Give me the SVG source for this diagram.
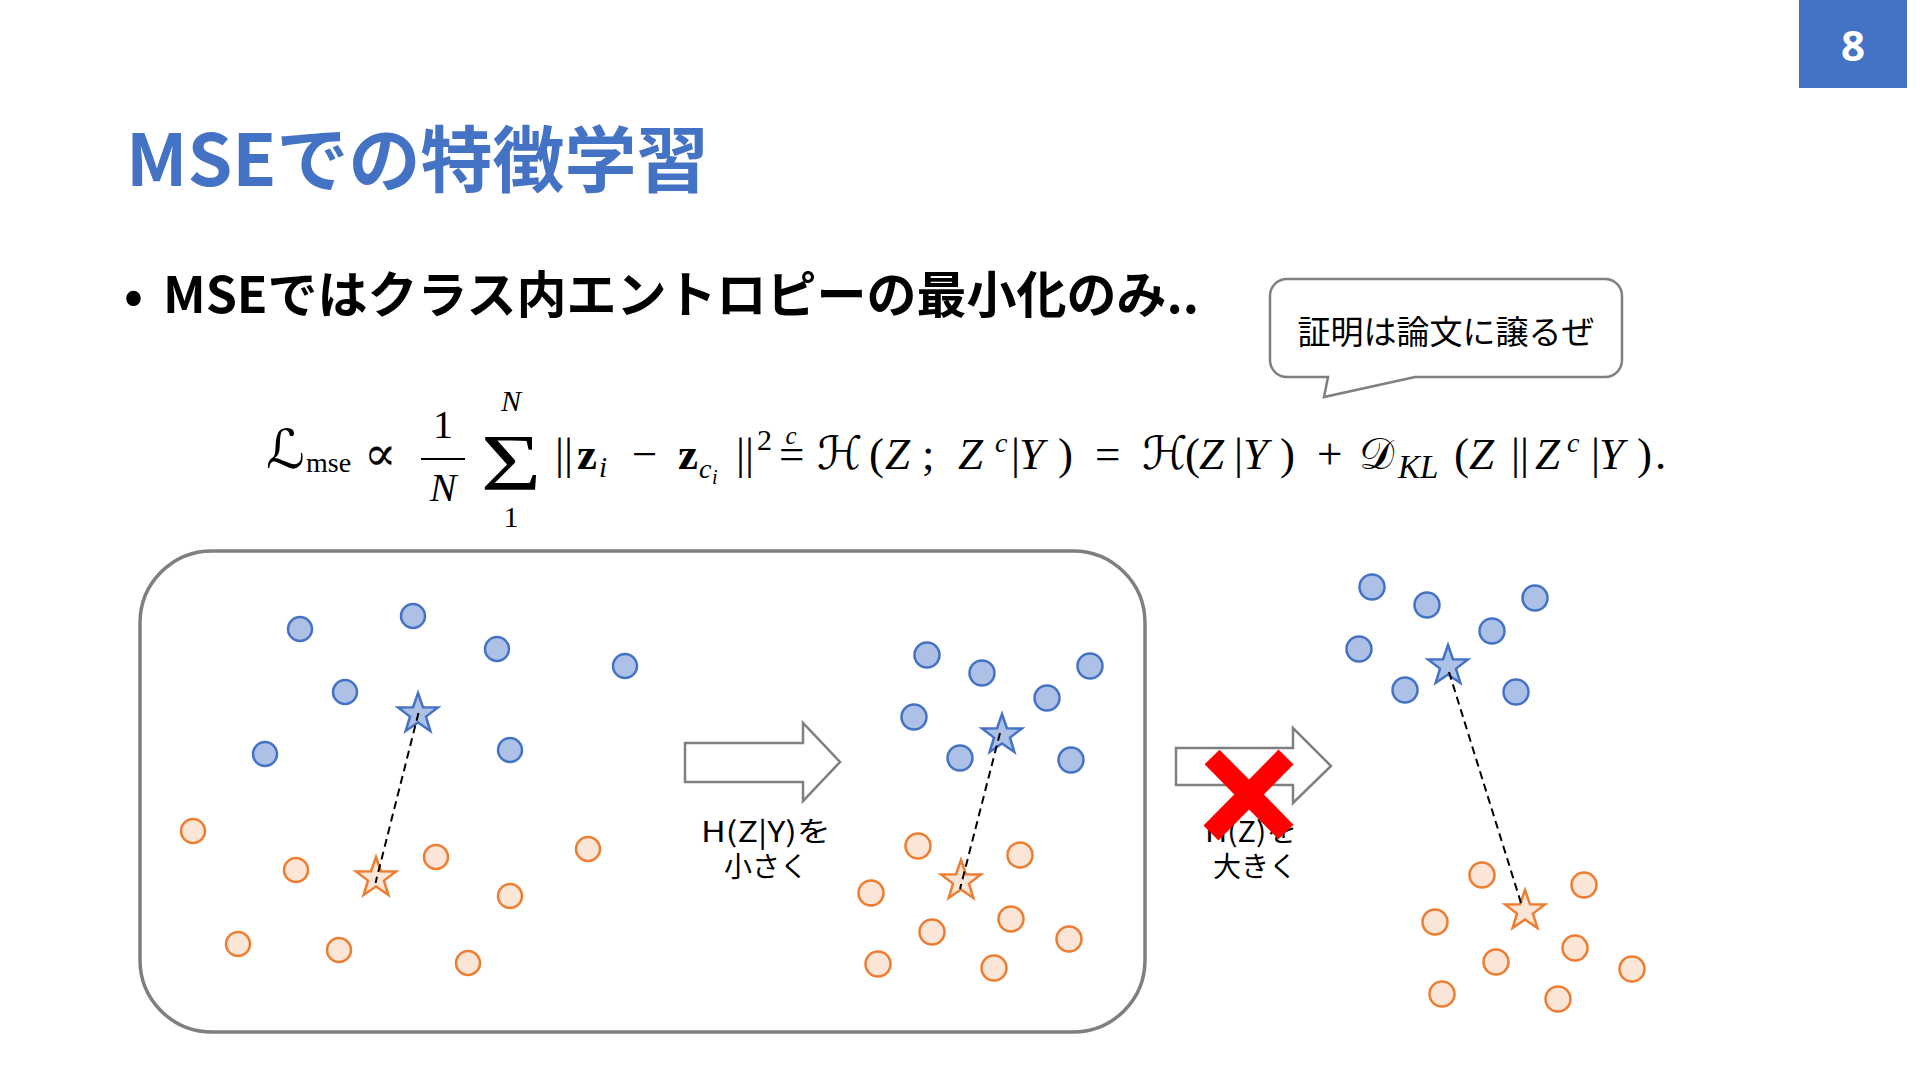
<svg xmlns="http://www.w3.org/2000/svg" width="1920" height="1080" viewBox="0 0 1920 1080">
<style>
.bc{fill:#adc1e7;stroke:#4472c4;stroke-width:2.5}
.oc{fill:#fbe5d6;stroke:#ed7d31;stroke-width:2.5}
.dash{stroke:#000;stroke-width:2;stroke-dasharray:8 5;fill:none}
.arrow{fill:#fff;stroke:#7f7f7f;stroke-width:2.5}
.lbl{font-family:"Noto Sans CJK JP","Noto Sans",sans-serif;font-size:28px;text-anchor:middle;fill:#000}
.m{font-family:"Liberation Serif","DejaVu Serif",serif;font-size:45px;fill:#000}
.i{font-style:italic}
.b{font-weight:bold}
.sc{font-family:"DejaVu Serif","DejaVu Sans",serif;font-size:46px;fill:#000}
</style>
<defs>
<path id="star" d="M0,-21 L4.94,-6.8 L19.97,-6.49 L7.99,2.6 L12.34,16.99 L0,8.4 L-12.34,16.99 L-7.99,2.6 L-19.97,-6.49 L-4.94,-6.8 Z"/>
</defs>
<rect width="1920" height="1080" fill="#fff"/>

<g id="page-number">
<rect x="1799" y="0" width="108" height="88" fill="#4472c4"/>
<text x="1853" y="61" font-family="'Noto Sans','Liberation Sans',sans-serif" font-weight="bold" font-size="42" fill="#fff" text-anchor="middle">8</text>
</g>

<g id="title">
<text x="126" y="186" font-family="'Noto Sans CJK JP',sans-serif" font-weight="bold" font-size="72" fill="#4472c4">MSEでの特徴学習</text>
</g>

<g id="bullet">
<text x="124" y="313" font-family="'Noto Sans CJK JP',sans-serif" font-weight="bold" font-size="50" fill="#000">•</text>
<text x="163" y="313" font-family="'Noto Sans CJK JP',sans-serif" font-weight="bold" font-size="50" fill="#000">MSEではクラス内エントロピーの最小化のみ..</text>
</g>

<g id="callout">
<path d="M1287,279 H1605 A17,17 0 0 1 1622,296 V360 A17,17 0 0 1 1605,377 H1415 L1324,397 L1328,377 H1287 A17,17 0 0 1 1270,360 V296 A17,17 0 0 1 1287,279 Z" fill="#fff" stroke="#7f7f7f" stroke-width="2.5"/>
<text x="1446" y="344" font-family="'Noto Sans CJK JP',sans-serif" font-size="33" fill="#000" text-anchor="middle">証明は論文に譲るぜ</text>
</g>

<g id="formula">
<text class="sc" x="266" y="468" style="font-size:54px">ℒ</text>
<text class="m" x="306" y="472" style="font-size:28px">mse</text>
<text x="364" y="470" font-family="'DejaVu Serif',serif" font-size="48">∝</text>
<text class="m" x="443" y="438" text-anchor="middle" style="font-size:40px">1</text>
<line x1="421" y1="459" x2="465" y2="459" stroke="#000" stroke-width="2"/>
<text class="m i" x="443" y="501" text-anchor="middle" style="font-size:40px">N</text>
<text class="m" x="0" y="0" text-anchor="middle" style="font-size:80px" transform="translate(511,490) scale(1.3,1)">Σ</text>
<text class="m i" x="511" y="411" text-anchor="middle" style="font-size:30px">N</text>
<text class="m" x="511" y="527" text-anchor="middle" style="font-size:30px">1</text>
<text class="m" x="555" y="469">||</text>
<text class="m b" x="577" y="469">z</text>
<text class="m i" x="599" y="477" style="font-size:29px">i</text>
<text class="m" x="632" y="469">−</text>
<text class="m b" x="678" y="469">z</text>
<text class="m i" x="699" y="478" style="font-size:28px">c</text>
<text class="m i" x="712" y="484" style="font-size:20px">i</text>
<text class="m" x="736" y="469">||</text>
<text class="m" x="757" y="450" style="font-size:30px">2</text>
<text class="m" x="779" y="469">=</text>
<text class="m i" x="791" y="444" text-anchor="middle" style="font-size:25px">c</text>
<text class="sc" x="817" y="469">ℋ</text>
<text class="m" x="869" y="469">(</text>
<text class="m i" x="885" y="469">Z</text>
<text class="m" x="922" y="469">;</text>
<text class="m i" x="958" y="469">Z</text>
<text class="m i" x="995" y="452" style="font-size:28px">c</text>
<text class="m" x="1011" y="469">|</text>
<text class="m i" x="1019" y="469">Y</text>
<text class="m" x="1058" y="469">)</text>
<text class="m" x="1095" y="469">=</text>
<text class="sc" x="1142" y="469">ℋ</text>
<text class="m" x="1185" y="469">(</text>
<text class="m i" x="1199" y="469">Z</text>
<text class="m" x="1234" y="469">|</text>
<text class="m i" x="1243" y="469">Y</text>
<text class="m" x="1280" y="469">)</text>
<text class="m" x="1317" y="469">+</text>
<text class="sc" x="1359" y="469" style="font-size:44px">𝒟</text>
<text class="m i" x="1398" y="478" style="font-size:33px">KL</text>
<text class="m" x="1454" y="469">(</text>
<text class="m i" x="1469" y="469">Z</text>
<text class="m" x="1511" y="469">||</text>
<text class="m i" x="1535" y="469">Z</text>
<text class="m i" x="1567" y="452" style="font-size:28px">c</text>
<text class="m" x="1591" y="469">|</text>
<text class="m i" x="1599" y="469">Y</text>
<text class="m" x="1637" y="469">)</text>
<text class="m" x="1655" y="469">.</text>
</g>

<g id="before-panel">
<rect x="140" y="551" width="1005" height="481" rx="72" ry="72" fill="none" stroke="#7f7f7f" stroke-width="3.5"/>
</g>

<g id="left-blue">
<circle class="bc" cx="300" cy="629" r="12"/>
<circle class="bc" cx="413" cy="616" r="12"/>
<circle class="bc" cx="497" cy="649" r="12"/>
<circle class="bc" cx="625" cy="666" r="12"/>
<circle class="bc" cx="345" cy="692" r="12"/>
<circle class="bc" cx="265" cy="754" r="12"/>
<circle class="bc" cx="510" cy="750" r="12"/>
<use href="#star" class="bc" x="418" y="714"/>
</g>
<g id="left-orange">
<circle class="oc" cx="193" cy="831" r="12"/>
<circle class="oc" cx="296" cy="870" r="12"/>
<circle class="oc" cx="436" cy="857" r="12"/>
<circle class="oc" cx="588" cy="849" r="12"/>
<circle class="oc" cx="510" cy="896" r="12"/>
<circle class="oc" cx="238" cy="944" r="12"/>
<circle class="oc" cx="339" cy="950" r="12"/>
<circle class="oc" cx="468" cy="963" r="12"/>
<use href="#star" class="oc" x="376" y="878"/>
</g>

<g id="middle-blue">
<circle class="bc" cx="927" cy="655" r="12.5"/>
<circle class="bc" cx="982" cy="673" r="12.5"/>
<circle class="bc" cx="1090" cy="666" r="12.5"/>
<circle class="bc" cx="1047" cy="698" r="12.5"/>
<circle class="bc" cx="914" cy="717" r="12.5"/>
<circle class="bc" cx="960" cy="758" r="12.5"/>
<circle class="bc" cx="1071" cy="760" r="12.5"/>
<use href="#star" class="bc" x="1002" y="735"/>
</g>
<g id="middle-orange">
<circle class="oc" cx="918" cy="846" r="12.5"/>
<circle class="oc" cx="1020" cy="855" r="12.5"/>
<circle class="oc" cx="871" cy="893" r="12.5"/>
<circle class="oc" cx="1011" cy="919" r="12.5"/>
<circle class="oc" cx="932" cy="932" r="12.5"/>
<circle class="oc" cx="1069" cy="939" r="12.5"/>
<circle class="oc" cx="878" cy="964" r="12.5"/>
<circle class="oc" cx="994" cy="968" r="12.5"/>
<use href="#star" class="oc" x="961" y="881"/>
</g>

<g id="right-blue">
<circle class="bc" cx="1372" cy="587" r="12.5"/>
<circle class="bc" cx="1427" cy="605" r="12.5"/>
<circle class="bc" cx="1535" cy="598" r="12.5"/>
<circle class="bc" cx="1492" cy="631" r="12.5"/>
<circle class="bc" cx="1359" cy="649" r="12.5"/>
<circle class="bc" cx="1405" cy="690" r="12.5"/>
<circle class="bc" cx="1516" cy="692" r="12.5"/>
<use href="#star" class="bc" x="1448" y="666"/>
</g>
<g id="right-orange">
<circle class="oc" cx="1482" cy="875" r="12.5"/>
<circle class="oc" cx="1584" cy="885" r="12.5"/>
<circle class="oc" cx="1435" cy="922" r="12.5"/>
<circle class="oc" cx="1575" cy="948" r="12.5"/>
<circle class="oc" cx="1496" cy="962" r="12.5"/>
<circle class="oc" cx="1632" cy="969" r="12.5"/>
<circle class="oc" cx="1442" cy="994" r="12.5"/>
<circle class="oc" cx="1558" cy="999" r="12.5"/>
<use href="#star" class="oc" x="1525" y="911"/>
</g>

<g id="arrow-reduce">
<path class="arrow" d="M685,743 H803 V723 L840,762 L803,801 V782 H685 Z"/>
<text class="lbl" x="766" y="842" textLength="130" lengthAdjust="spacingAndGlyphs">H(Z|Y)を</text>
<text class="lbl" x="766" y="877">小さく</text>
</g>

<g id="arrow-increase">
<path class="arrow" d="M1176,748 H1293 V728 L1331,766 L1293,803 V785 H1176 Z"/>
<text class="lbl" x="1251" y="842" textLength="92" lengthAdjust="spacingAndGlyphs">H(Z)を</text>
<text class="lbl" x="1255" y="877">大きく</text>
<g id="cross" stroke="#ff0000" stroke-width="21">
<line x1="1212" y1="757" x2="1286" y2="832"/>
<line x1="1286" y1="757" x2="1211" y2="833"/>
</g>
</g>

<g id="connectors">
<line class="dash" x1="418.5" y1="713" x2="375.5" y2="883"/>
<line class="dash" x1="1000" y1="733" x2="960" y2="889"/>
<line class="dash" x1="1449" y1="672" x2="1521" y2="903"/>
</g>
</svg>
